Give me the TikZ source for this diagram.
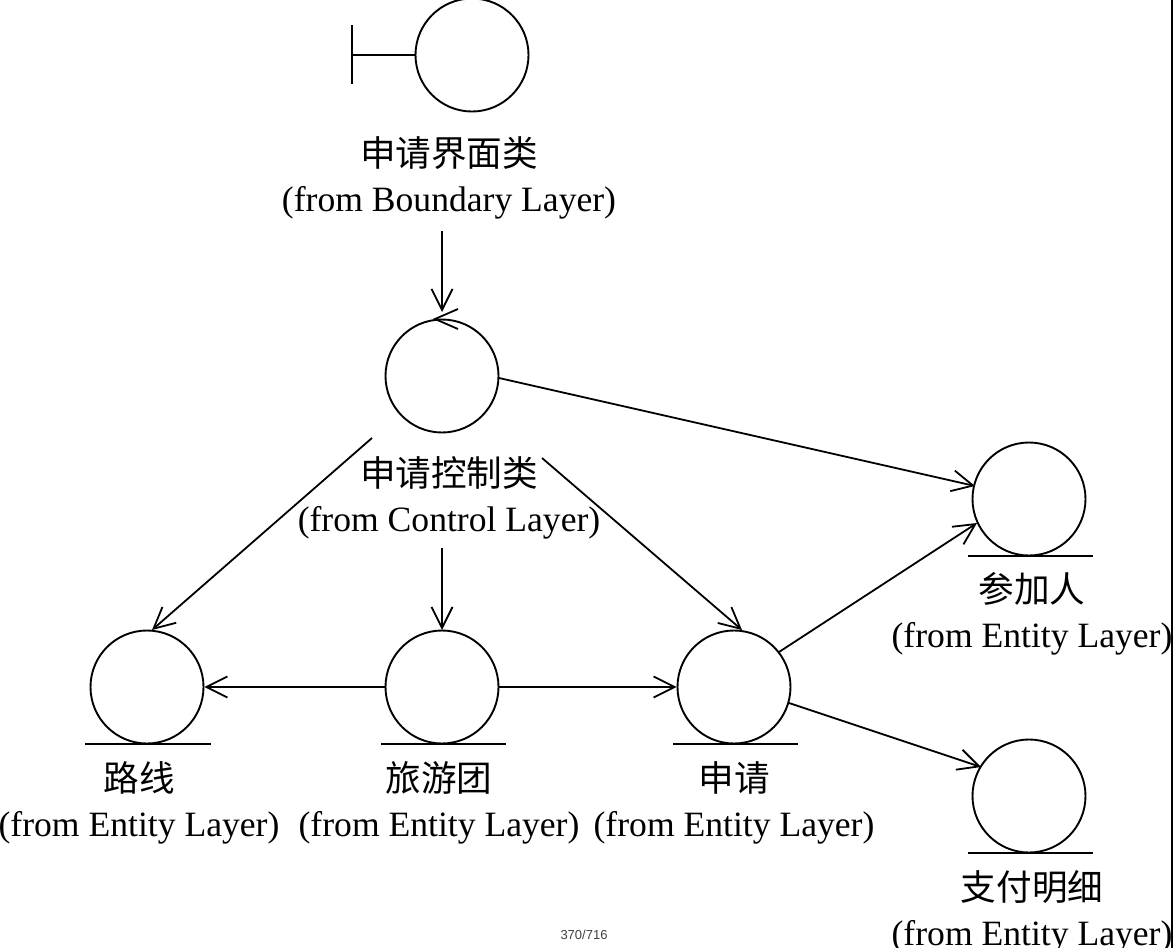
\documentclass[tikz,border=0pt]{standalone}
\usepackage{fontspec}
\setmainfont{Liberation Serif}
\newfontfamily\cjk{Noto Sans CJK SC}
\newfontfamily\pagefont{Liberation Sans}
\usetikzlibrary{arrows.meta}
\tikzset{
  px/.style={x=1pt,y=-1pt},
  obj/.style={circle,draw,line width=1.9pt,minimum size=113pt,inner sep=0pt},
  lab/.style={align=center,font=\fontsize{35.6}{45}\selectfont,inner sep=0pt},
  conn/.style={line width=1.8pt,-{Straight Barb[length=21pt,width=21pt,line width=1.8pt]}},
  bar/.style={line width=1.8pt}
}
\newcommand{\cn}[1]{{\cjk #1}}
\begin{document}
\begin{tikzpicture}[px]
\useasboundingbox (0,0) rectangle (1173,948);
\node[obj] (bnd) at (472,55) {};
\node[obj] (ctl) at (442,376) {};
\node[obj] (rt) at (147,687) {};
\node[obj] (tg) at (442,687) {};
\node[obj] (ap) at (734,687) {};
\node[obj] (pt) at (1029,499) {};
\node[obj] (pay) at (1029,796) {};
\coordinate (bt) at (352,25);
\coordinate (bb) at (352,84);
\coordinate (bm) at (352,55);
\draw[bar] (bt) -- (bb);
\draw[bar] (bm) -- (bnd);
\draw[bar] (85,744) -- (211,744);
\draw[bar] (381,744) -- (506,744);
\draw[bar] (673,744) -- (798,744);
\draw[bar] (968,556) -- (1093,556);
\draw[bar] (968,853) -- (1093,853);
\node[lab] (lb) at (449,178) {\cn{申请界面类}\\(from Boundary Layer)};
\node[lab] (lc) at (449,498) {\cn{申请控制类}\\(from Control Layer)};
\node[lab] (lr) at (139,803) {\cn{路线}\\(from Entity Layer)};
\node[lab] (lt) at (439,803) {\cn{旅游团}\\(from Entity Layer)};
\node[lab] (la) at (734,803) {\cn{申请}\\(from Entity Layer)};
\node[lab] (lp) at (1032,614) {\cn{参加人}\\(from Entity Layer)};
\node[lab] (lq) at (1032,912) {\cn{支付明细}\\(from Entity Layer)};
\node[font=\fontsize{13}{15}\selectfont\pagefont,text=black!75,inner sep=0pt] (pg) at (584,935) {370/716};
\coordinate (a1) at (442,231);
\coordinate (a1e) at (442,312);
\coordinate (a2) at (499,378);
\coordinate (a2e) at (975,486);
\coordinate (a3) at (372,438);
\coordinate (a3e) at (152,630);
\coordinate (a4) at (442,548);
\coordinate (a4e) at (442,630);
\coordinate (a5) at (542,458);
\coordinate (a5e) at (742,630);
\coordinate (a6) at (779,652);
\coordinate (a6e) at (977,523);
\coordinate (a7) at (789,703);
\coordinate (a7e) at (981,767);
\draw[conn] (a1) -- (a1e);
\draw[conn] (a2) -- (a2e);
\draw[conn] (a3) -- (a3e);
\draw[conn] (a4) -- (a4e);
\draw[conn] (a5) -- (a5e);
\draw[conn] (tg.west) -- (rt.east);
\draw[conn] (tg.east) -- (ap.west);
\draw[conn] (a6) -- (a6e);
\draw[conn] (a7) -- (a7e);
\coordinate (ct) at (435,319);
\draw[bar] (458,309) -- (ct) -- (458,329);
\draw[bar,line width=1.5pt] (1172.2,0) -- (1172.2,948);
\end{tikzpicture}
\end{document}
